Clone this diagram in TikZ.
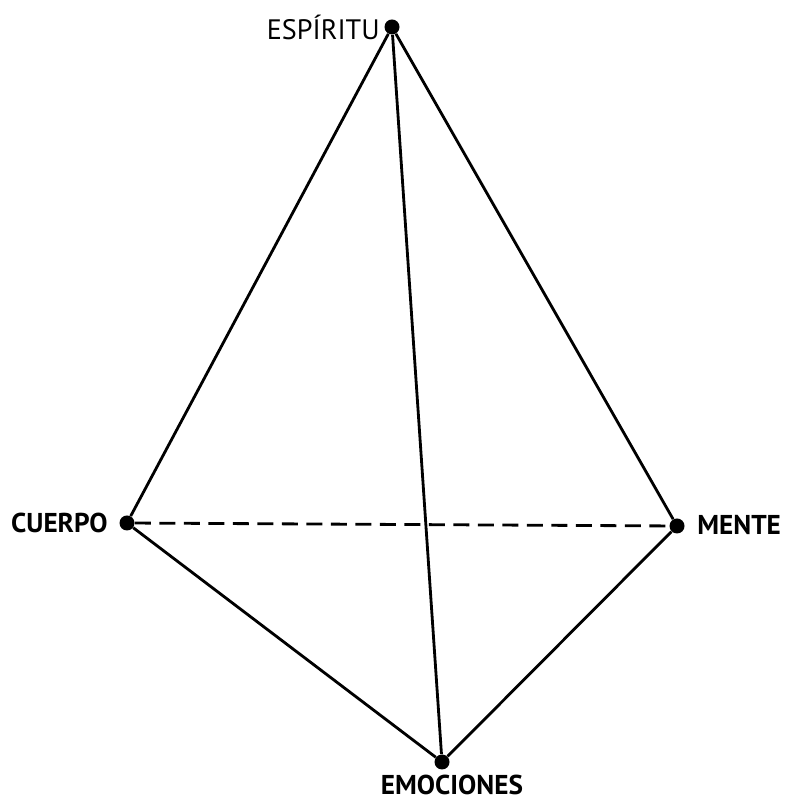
\documentclass[tikz,border=0pt]{standalone}
\usepackage{fontspec}
\setmainfont{PT Sans}
\usepackage{tikz}
\usetikzlibrary{calc}

\tikzset{
  vertex/.style={circle, fill=black, inner sep=0pt, minimum size=0.3cm},
  edge/.style={line width=1.6pt},
  lbl/.style={font=\bfseries\fontsize{15.5}{18}\selectfont, inner sep=0pt}
}

\begin{document}
\begin{tikzpicture}[scale=1.0]
  \useasboundingbox (0,0) rectangle (15.7,16);
  \node[vertex] (espiritu) at (7.84,15.46) {};
  \node[vertex] (cuerpo) at (2.54,5.54) {};
  \node[vertex] (mente) at (13.54,5.48) {};
  \node[vertex] (emociones) at (8.84,0.76) {};
  \draw[edge] (espiritu) -- (cuerpo) -- (emociones) -- (mente) -- (espiritu);
  \draw[edge] (espiritu) -- (emociones);
  \draw[edge, dash pattern=on 0.32cm off 0.17cm] (cuerpo) -- (mente);
  \node[lbl, font=\fontsize{16}{18}\selectfont, anchor=east] (t1) at (7.6,15.46) {ESPÍRITU};
  \node[lbl, anchor=east] (t2) at (2.16,5.54) {CUERPO};
  \node[lbl, anchor=west] (t3) at (13.94,5.5) {MENTE};
  \node[lbl, anchor=base] (t4) at (9.04,0.1) {EMOCIONES};
\end{tikzpicture}
\end{document}
